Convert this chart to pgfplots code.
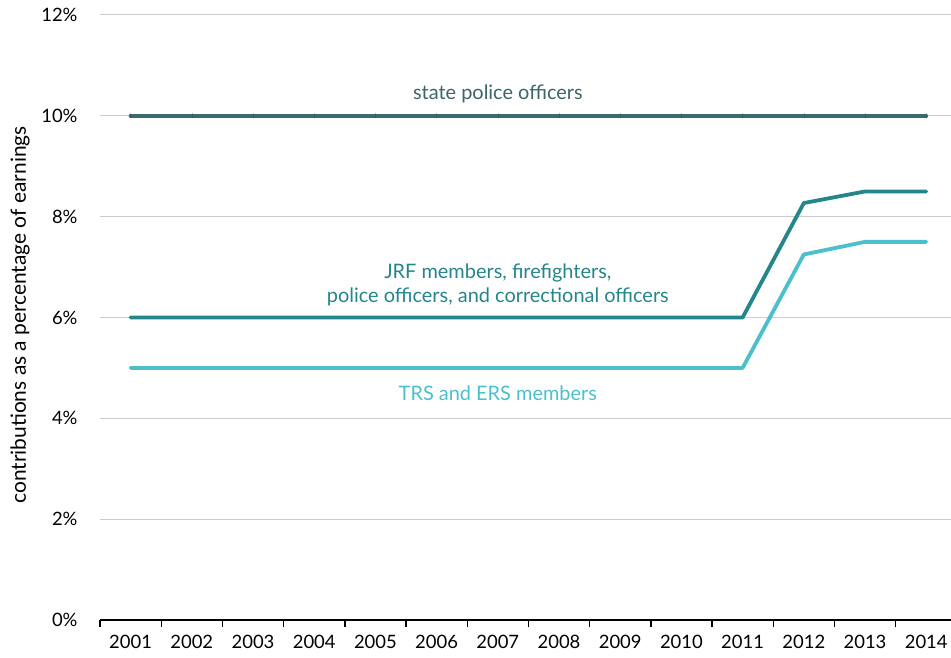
\documentclass[border=0pt]{standalone}
\usepackage{fontspec}
\setmainfont{Lato}
\usepackage{pgfplots}
\pgfplotsset{compat=1.18}
\definecolor{cpolice}{HTML}{3B6B6F}
\definecolor{cpolicetxt}{HTML}{3D6468}
\definecolor{cjrf}{HTML}{24858B}
\definecolor{ctrs}{HTML}{4BBFCC}
\definecolor{cgrid}{HTML}{CCCCCC}
\begin{document}
\begin{tikzpicture}
\path[use as bounding box] (-100bp,-38bp) rectangle (851bp,620bp);
\begin{axis}[
  at={(0,0)}, anchor=origin,
  scale only axis, width=851bp, height=605bp,
  xmin=0.5, xmax=14.405, ymin=0, ymax=12,
  axis x line=bottom, axis y line=left,
  x axis line style={line width=1.6bp, black, -},
  y axis line style={draw=none},
  xtick={0.5,1.5,...,13.5},
  xticklabels={2001,2002,2003,2004,2005,2006,2007,2008,2009,2010,2011,2012,2013,2014},
  xtick style={line width=1.4bp, black},
  tick align=outside, major tick length=7bp,
  ytick={0,2,4,6,8,10,12},
  yticklabels={0\%,2\%,4\%,6\%,8\%,10\%,12\%},
  ytick style={draw=none},
  ymajorgrids, grid style={cgrid, line width=1bp},
  tick label style={font=\fontsize{18.5}{22}\selectfont, text=black},
  xticklabel style={anchor=north, xshift=30.6bp, yshift=-5bp},
  yticklabel style={anchor=east, xshift=-12bp},
  clip=false,
  every axis plot/.append style={line width=3.8bp, line join=round},
]
\addplot[cpolice, line cap=round, mark=|, mark size=2bp, mark options={line width=0.6bp, draw=cpolice!85!black}] coordinates {
(1,10)(2,10)(3,10)(4,10)(5,10)(6,10)(7,10)(8,10)(9,10)(10,10)(11,10)(12,10)(13,10)(14,10)};
\addplot[cjrf, line cap=round] coordinates {
(1,6)(2,6)(3,6)(4,6)(5,6)(6,6)(7,6)(8,6)(9,6)(10,6)(11,6)(12,8.27)(13,8.5)(14,8.5)};
\addplot[ctrs, line cap=round] coordinates {
(1,5)(2,5)(3,5)(4,5)(5,5)(6,5)(7,5)(8,5)(9,5)(10,5)(11,5)(12,7.25)(13,7.5)(14,7.5)};
\node[font=\fontsize{20}{24}\selectfont, text=cpolicetxt] at (axis cs:7.0,10.43) {state police officers};
\node[font=\fontsize{20}{24}\selectfont, text=cjrf, align=center] at (axis cs:7.0,6.64) {JRF members, firefighters,\\police officers, and correctional officers};
\node[font=\fontsize{20}{24}\selectfont, text=ctrs] at (axis cs:7.0,4.5) {TRS and ERS members};
\end{axis}
\node[rotate=90, font=\fontsize{21}{24}\selectfont, anchor=center] at (-80bp,305bp) {contributions as a percentage of earnings};
\end{tikzpicture}
\end{document}
